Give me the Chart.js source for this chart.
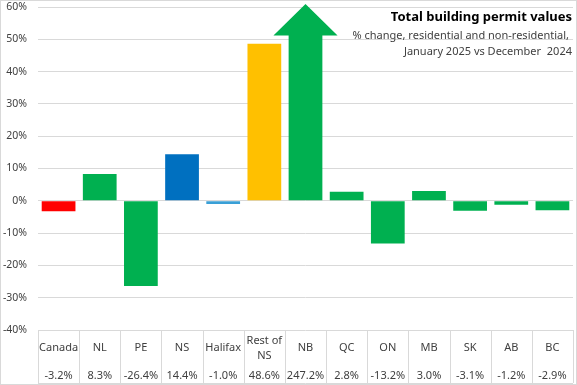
<!DOCTYPE html>
<html>
<head>
<meta charset="utf-8">
<script src="https://cdn.jsdelivr.net/npm/chart.js@4.4.1/dist/chart.umd.min.js"></script>
<style>
  html, body { margin: 0; padding: 0; background: #fff; }
  #wrap { width: 577px; height: 385px; position: relative; }
</style>
</head>
<body>
<div id="wrap"><canvas id="permitChart"></canvas></div>
<script>
// --- data ---
const categories = ['Canada', 'NL', 'PE', 'NS', 'Halifax', 'Rest of NS', 'NB', 'QC', 'ON', 'MB', 'SK', 'AB', 'BC'];
const tableLabels = [['Canada'], ['NL'], ['PE'], ['NS'], ['Halifax'], ['Rest of', 'NS'], ['NB'], ['QC'], ['ON'], ['MB'], ['SK'], ['AB'], ['BC']];
const changePct = [-3.2, 8.3, -26.4, 14.4, -1.0, 48.6, 247.2, 2.8, -13.2, 3.0, -3.1, -1.2, -2.9];
const barColors = ['#FF0000', '#00B050', '#00B050', '#0070C0', '#3A9FD6', '#FFC000', '#00B050',
                   '#00B050', '#00B050', '#00B050', '#00B050', '#00B050', '#00B050'];
const yMin = -40, yMax = 60, yStep = 10;
const titleText = 'Total building permit values';
const subtitleLines = ['% change, residential and non-residential,', 'January 2025 vs December  2024'];

const TEXT = '#404040';
const GRID = '#d9d9d9';
const FONT = '"Noto Sans", "Liberation Sans", sans-serif';

// bars that run past the axis max get drawn as an arrow
const overflowArrow = {
    id: 'overflowArrow',
    afterDatasetsDraw(chart) {
        const ctx = chart.ctx;
        const y = chart.scales.y;
        const meta = chart.getDatasetMeta(0);
        meta.data.forEach((bar, i) => {
            if (changePct[i] <= yMax) return;
            const half = bar.width / 2;
            const bodyTop = y.getPixelForValue(51.2);
            const tip = y.top - 3;
            ctx.save();
            ctx.fillStyle = barColors[i];
            ctx.beginPath();
            ctx.moveTo(bar.x - half, bar.base);
            ctx.lineTo(bar.x - half, bodyTop);
            ctx.lineTo(bar.x - half * 1.9, bodyTop);
            ctx.lineTo(bar.x, tip);
            ctx.lineTo(bar.x + half * 1.9, bodyTop);
            ctx.lineTo(bar.x + half, bodyTop);
            ctx.lineTo(bar.x + half, bar.base);
            ctx.closePath();
            ctx.fill();
            ctx.restore();
        });
    }
};

// data table under the plot + titles + outer border
const tableAndTitle = {
    id: 'tableAndTitle',
    afterDraw(chart) {
        const ctx = chart.ctx;
        const x = chart.scales.x;
        const area = chart.chartArea;
        const top = area.bottom;
        const bottom = chart.height - 2;
        const n = categories.length;

        ctx.save();
        ctx.strokeStyle = GRID;
        ctx.lineWidth = 1;
        // vertical cell borders
        for (let i = 0; i <= n; i++) {
            let px;
            if (i === 0) px = area.left;
            else if (i === n) px = area.right;
            else px = (x.getPixelForValue(i - 1) + x.getPixelForValue(i)) / 2;
            px = Math.round(px) + 0.5;
            ctx.beginPath();
            ctx.moveTo(px, top);
            ctx.lineTo(px, bottom);
            ctx.stroke();
        }
        ctx.beginPath();
        ctx.moveTo(area.left, bottom + 0.5);
        ctx.lineTo(area.right, bottom + 0.5);
        ctx.stroke();

        // outer chart border
        ctx.strokeRect(0.5, 0.5, chart.width - 1, chart.height - 1);

        // cell text
        ctx.fillStyle = TEXT;
        ctx.font = '11px ' + FONT;
        ctx.textAlign = 'center';
        ctx.textBaseline = 'middle';
        categories.forEach((c, i) => {
            const cx = x.getPixelForValue(i);
            const lines = tableLabels[i];
            if (lines.length === 1) {
                ctx.fillText(lines[0], cx, top + 18);
            } else {
                ctx.fillText(lines[0], cx, top + 11);
                ctx.fillText(lines[1], cx, top + 26);
            }
            ctx.fillText(changePct[i].toFixed(1) + '%', cx, top + 46);
        });

        // titles, right aligned inside plot
        ctx.textAlign = 'right';
        ctx.fillStyle = '#000';
        ctx.font = 'bold 13px ' + FONT;
        ctx.fillText(titleText, 572, 17);
        ctx.fillStyle = TEXT;
        ctx.font = '11px ' + FONT;
        ctx.fillText(subtitleLines[0], 569, 36);
        ctx.fillText(subtitleLines[1], 572, 52);
        ctx.restore();
    }
};

new Chart(document.getElementById('permitChart'), {
    type: 'bar',
    data: {
        labels: categories,
        datasets: [{
            data: changePct,
            backgroundColor: changePct.map((v, i) => v > yMax ? 'rgba(0,0,0,0)' : barColors[i]),
            borderWidth: 0,
            barPercentage: 0.82,
            categoryPercentage: 1.0
        }]
    },
    options: {
        responsive: true,
        maintainAspectRatio: false,
        animation: false,
        layout: { padding: { left: 0, top: 7, right: 4, bottom: 55 } },
        plugins: {
            legend: { display: false },
            tooltip: { enabled: false },
            title: { display: false }
        },
        scales: {
            x: {
                display: false
            },
            y: {
                min: yMin,
                max: yMax,
                afterFit(scale) {
                    scale.width = 38;
                    scale.paddingTop = 0;
                    scale.paddingBottom = 0;
                },
                grid: { color: GRID, drawTicks: false },
                border: { display: false },
                ticks: {
                    stepSize: yStep,
                    padding: 11,
                    color: TEXT,
                    font: { family: FONT, size: 10.5 },
                    callback: v => v + '%'
                }
            }
        }
    },
    plugins: [overflowArrow, tableAndTitle]
});
</script>
</body>
</html>
